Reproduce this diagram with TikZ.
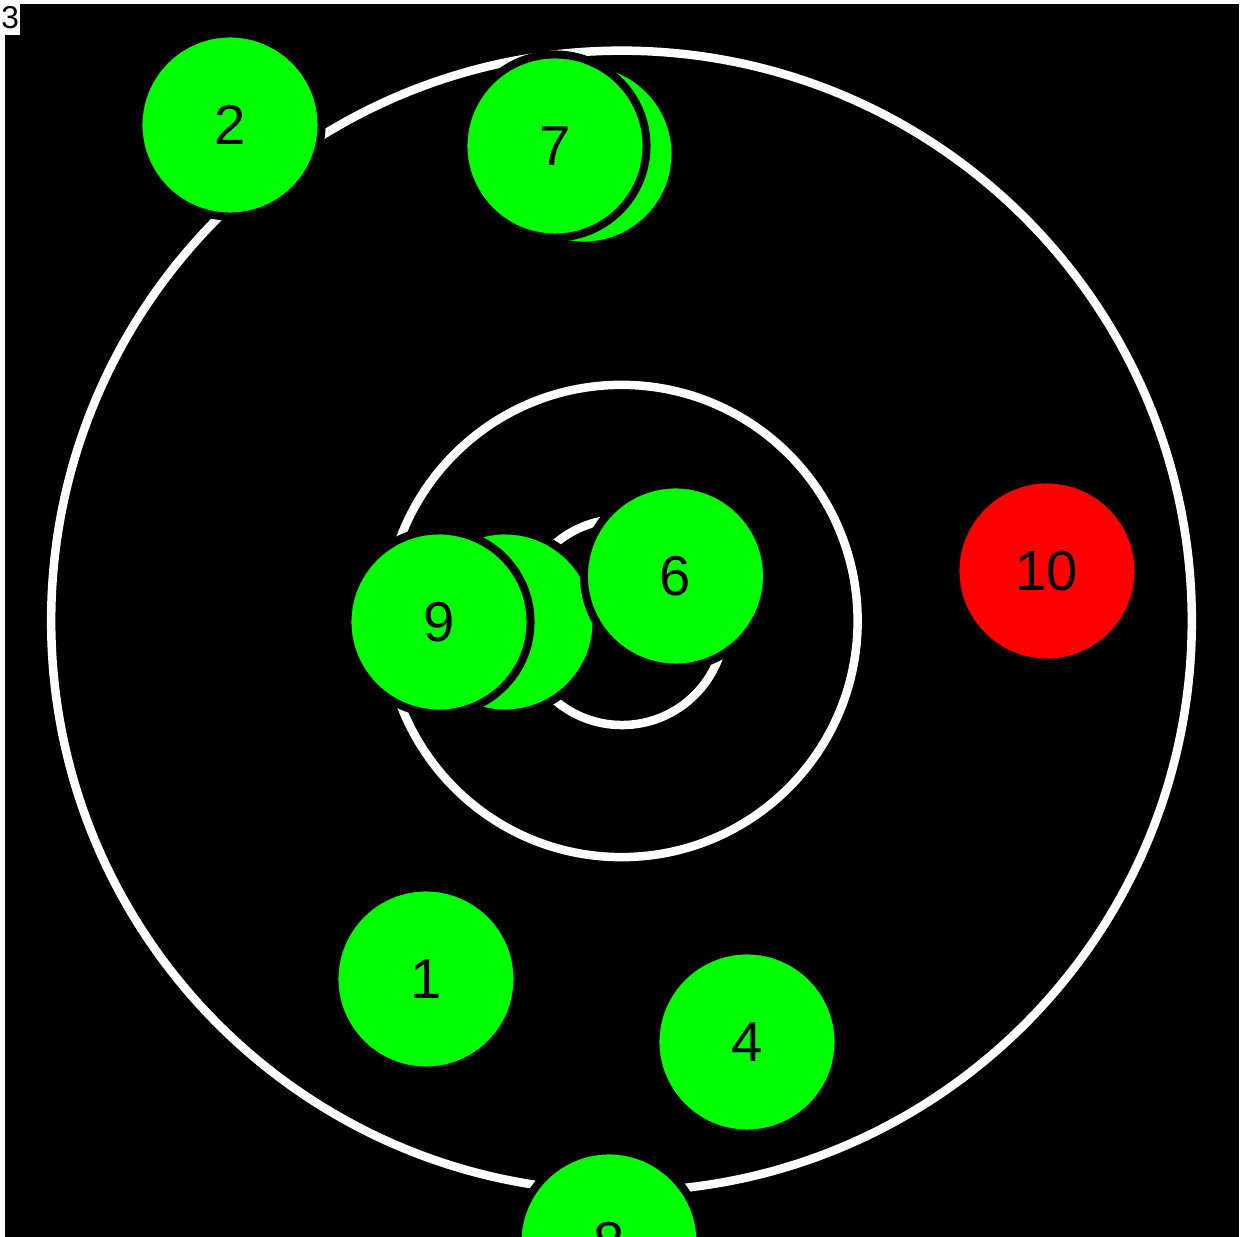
\documentclass[tikz,border=0pt]{standalone}
\usepackage{fontspec}
\setmainfont{Liberation Sans}
\begin{document}
\begin{tikzpicture}[x=0.01cm, y=-0.01cm,
  ball/.style={circle, draw=black, line width=0.08cm, fill=green, minimum size=1.83cm, inner sep=0pt, text depth=-0.05cm, font=\fontsize{16}{18}\selectfont},
  ring/.style={draw=white, line width=0.085cm}]
\clip (0,0) rectangle (1241,1237);
\fill[black] (5,4) rectangle (1239,1237);
\coordinate (c) at (621.5,621);
\draw[ring] (c) circle[radius=5.7cm];
\draw[ring] (c) circle[radius=2.36cm];
\draw[ring] (622,622) circle[radius=1.03cm];
% balls
\node[ball] (b2) at (230,125) {2};
\node[ball] (b7s) at (584,154) {};
\node[ball] (b7) at (555,146) {7};
\node[ball] (b9s) at (505,622) {};
\node[ball] (b9) at (439,622) {9};
\node[ball] (b6) at (675.5,576) {6};
\node[ball, fill=red] (b10) at (1047,571) {10};
\node[ball] (b1) at (426,979) {1};
\node[ball] (b4) at (747,1042) {4};
\node[ball] (b8) at (609,1242) {8};
\node[fill=white, anchor=north west, inner xsep=0.2pt, inner ysep=1.7pt, font=\fontsize{9}{10}\selectfont] (lbl) at (0,0) {3};
\end{tikzpicture}
\end{document}
